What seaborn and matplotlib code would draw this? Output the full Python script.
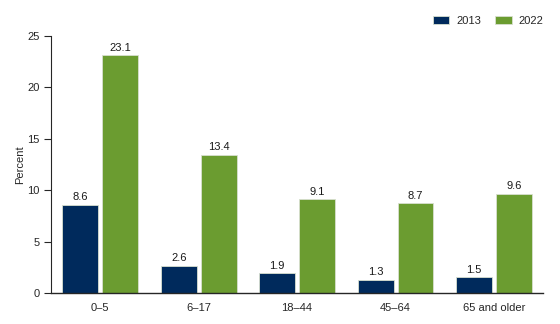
import matplotlib
matplotlib.use("Agg")
import matplotlib.pyplot as plt
import seaborn as sns
import pandas as pd

# Age groups and percentages by year
age_groups = ["0\u20135", "6\u201317", "18\u201344", "45\u201364", "65 and older"]
years = ["2013", "2022"]
pct_2013 = [8.6, 2.6, 1.9, 1.3, 1.5]
pct_2022 = [23.1, 13.4, 9.1, 8.7, 9.6]
y_ticks = [0, 5, 10, 15, 20, 25]

colors = {"2013": "#002a5c", "2022": "#6b9c30"}

df = pd.DataFrame({
    "age": age_groups * 2,
    "year": [years[0]] * len(age_groups) + [years[1]] * len(age_groups),
    "pct": pct_2013 + pct_2022,
})

sns.set_style("ticks")
plt.rcParams["font.family"] = ["Liberation Sans", "DejaVu Sans"]
plt.rcParams["font.size"] = 8

fig = plt.figure(figsize=(5.6, 3.24), dpi=100)
ax = fig.add_axes([0.091, 0.096, 0.879, 0.793])

sns.barplot(data=df, x="age", y="pct", hue="year", order=age_groups,
            hue_order=years, palette=colors, width=0.81, gap=0.1,
            edgecolor="#d8e0d0", linewidth=0.6, saturation=1, ax=ax)

for cont in ax.containers:
    ax.bar_label(cont, fmt="%.1f", padding=2, fontsize=8, color="#1a1a1a")

ax.set_ylim(0, 25)
ax.set_yticks(y_ticks)
ax.set_xlim(-0.5, len(age_groups) - 0.5)
ax.set_xlabel("")
ax.set_ylabel("Percent", fontsize=8, labelpad=2)
ax.tick_params(axis="x", length=0, pad=7, labelsize=8)
ax.tick_params(axis="y", length=5, width=0.8, direction="out", labelsize=8, pad=3)
for side in ["top", "right"]:
    ax.spines[side].set_visible(False)
ax.spines["left"].set_linewidth(0.8)
ax.spines["bottom"].set_linewidth(1.0)

leg = ax.legend(title=None, loc="upper right", bbox_to_anchor=(1.01, 1.095),
                ncol=2, frameon=False, fontsize=8, handlelength=1.45,
                handleheight=0.65, columnspacing=1.3, handletextpad=0.65,
                borderaxespad=0)

fig.savefig("out.png", dpi=100)
